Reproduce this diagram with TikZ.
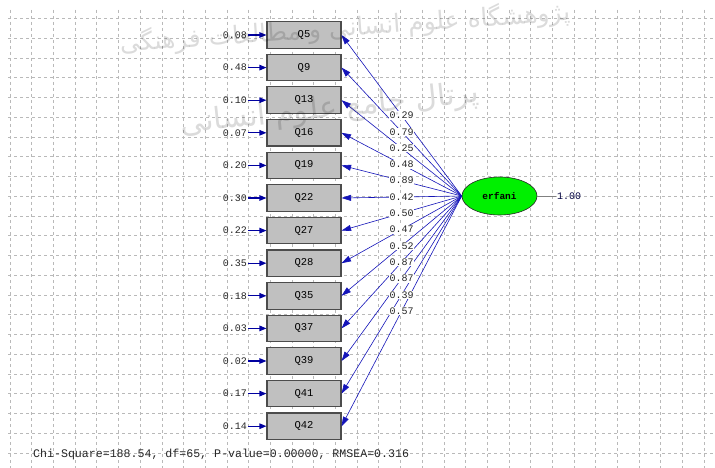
\documentclass[tikz,border=0pt]{standalone}
\usepackage{fontspec}
\setmonofont{Liberation Mono}
\newfontfamily\arabicfont[Script=Arabic]{DejaVu Sans}
\TeXXeTstate=1
\usetikzlibrary{arrows.meta,shapes.geometric}
\definecolor{pathblue}{RGB}{20,20,185}
\definecolor{errblue}{RGB}{0,0,160}
\definecolor{boxgray}{RGB}{192,192,192}
\definecolor{gridgray}{RGB}{185,185,185}
\definecolor{lvgreen}{RGB}{0,240,0}
\tikzset{
  gridline/.style={draw=gridgray, line width=0.6pt, dash pattern=on 3.2pt off 2.8pt},
  obs/.style={draw=black!70, line width=1.1pt, fill=boxgray, minimum width=74pt,
    minimum height=26.5pt, inner sep=0pt, font=\ttfamily\fontsize{10.5}{12}\selectfont},
  latent/.style={ellipse, draw=black!85, line width=0.6pt, fill=lvgreen, minimum width=75pt,
    minimum height=38pt, inner sep=0pt, font=\ttfamily\bfseries\fontsize{9.5}{11}\selectfont},
  numlab/.style={inner sep=1pt, font=\ttfamily\fontsize{10}{12}\selectfont, text=black!85},
  loadlab/.style={numlab, fill=white, inner sep=0.8pt},
  errarrow/.style={draw=errblue, line width=1.1pt, -{Triangle[length=7pt,width=5.5pt]}},
  loadarrow/.style={draw=pathblue, line width=0.6pt, -{Triangle[length=9.5pt,width=6pt]}},
  wmark/.style={text=black, text opacity=0.14, inner sep=0pt}
}
\begin{document}
\begin{tikzpicture}[x=1pt,y=-1pt]
\useasboundingbox (0,0) rectangle (715,468);
\fill[white] (0,0) rectangle (715,468);
% grid
\foreach \k in {0,...,22} \draw[gridline] (8,{18.5+19.75*\k}) -- (715,{18.5+19.75*\k});
\foreach \k in {0,...,32} \draw[gridline] ({10+21.69*\k},10) -- ({10+21.69*\k},468);
% latent variable
\node[latent] (lv) at (499.5,196) {erfani};
\node[numlab, anchor=west, text=black!75!blue] (lvvar) at (556,196) {1.00};
\draw[gray, line width=0.6pt] (lv.east) -- (lvvar.west);
% observed variables
\foreach \q/\e [count=\i from 0] in {Q5/0.08, Q9/0.48, Q13/0.10, Q16/0.07, Q19/0.20, Q22/0.30,
    Q27/0.22, Q28/0.35, Q35/0.18, Q37/0.03, Q39/0.02, Q41/0.17, Q42/0.14} {
  \node[obs] (q\i) at (304,{35+32.6*\i}) {\q};
  \node[numlab, anchor=east] (e\i) at (248,{35+32.6*\i}) {\e};
  \draw[errarrow] (e\i.east) -- (q\i.west);
}
% loadings
\foreach \i in {0,...,12} \draw[loadarrow] (lv.west) -- (q\i.east);
\foreach \l [count=\i from 0] in {0.29,0.79,0.25,0.48,0.89,0.42,0.50,0.47,0.52,0.87,0.87,0.39,0.57}
  \path (lv.west) -- node[loadlab] (l\i) {\l} (q\i.east);
% fit statistics
\node[anchor=west, inner sep=0pt, font=\ttfamily\fontsize{11.6}{14}\selectfont, text=black!85] (fit)
  at (33,454) {Chi-Square=188.54, df=65, P-value=0.00000, RMSEA=0.316};
% watermark
\node[wmark, rotate=4, font=\arabicfont\fontsize{25}{30}\selectfont] (wm1) at (345,28)
  {\beginR پژوهشگاه علوم انسانی و مطالعات فرهنگی\endR};
\node[wmark, rotate=6, font=\arabicfont\fontsize{30}{34}\selectfont] (wm2) at (330,110)
  {\beginR پرتال جامع علوم انسانی\endR};
\end{tikzpicture}
\end{document}
